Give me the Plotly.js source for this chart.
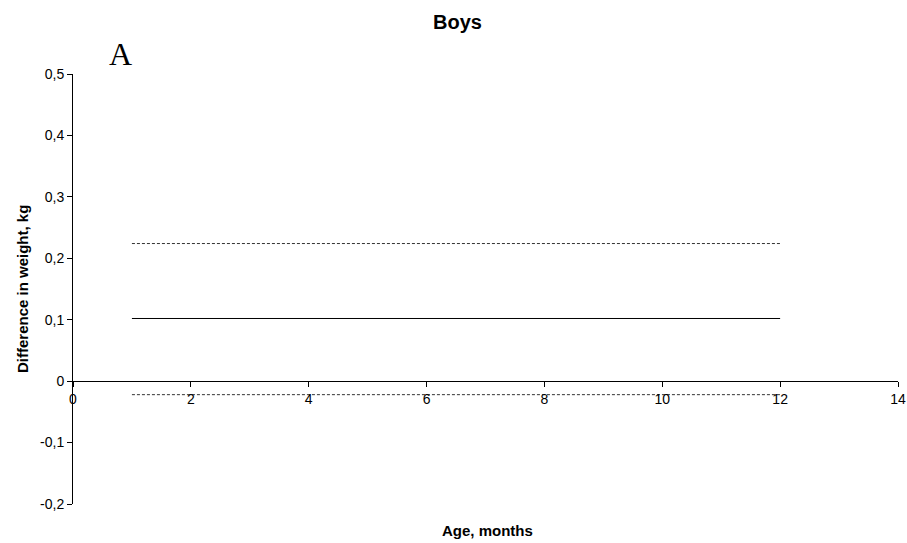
<!DOCTYPE html>
<html>
<head>
<meta charset="utf-8">
<script src="https://cdn.plot.ly/plotly-3.0.1.min.js"></script>
<style>html,body{margin:0;padding:0;background:#fff;}#chart{width:907px;height:543px;}</style>
</head>
<body>
<div id="chart"></div>
<script>
var ages = [1, 12];
var meanDiff = [0.102, 0.102];
var upperCI = [0.224, 0.224];
var lowerCI = [-0.022, -0.022];
var xTickVals = [0, 2, 4, 6, 8, 10, 12, 14];
var xTickText = ['0', '2', '4', '6', '8', '10', '12', '14'];
var yTickVals = [-0.2, -0.1, 0, 0.1, 0.2, 0.3, 0.4, 0.5];
var yTickText = ['-0,2', '-0,1', '0', '0,1', '0,2', '0,3', '0,4', '0,5'];

var yMin = -0.2, yMax = 0.5;
var font = 'Liberation Sans, Arial, sans-serif';

var traces = [
  {x: ages, y: meanDiff, mode: 'lines', line: {color: '#000', width: 1}, hoverinfo: 'skip'},
  {x: ages, y: upperCI, mode: 'lines', line: {color: '#333', width: 1, dash: '3px,2px'}, hoverinfo: 'skip'},
  {x: ages, y: lowerCI, mode: 'lines', line: {color: '#333', width: 1, dash: '3px,2px'}, hoverinfo: 'skip'}
];

var layout = {
  width: 907, height: 543,
  margin: {l: 73, r: 9, t: 74, b: 39},
  paper_bgcolor: '#fff', plot_bgcolor: '#fff',
  showlegend: false,
  font: {family: font, size: 14, color: '#000'},
  xaxis: {
    range: [0, 14], tickvals: xTickVals, ticktext: xTickText,
    showgrid: false, zeroline: false, showline: true, linecolor: '#000', linewidth: 1,
    ticks: 'outside', ticklen: 5, tickcolor: '#000',
    anchor: 'free', position: (0 - yMin) / (yMax - yMin),
    tickfont: {family: font, size: 14, color: '#000'}
  },
  yaxis: {
    range: [yMin, yMax], tickvals: yTickVals, ticktext: yTickText,
    showgrid: false, zeroline: false, showline: true, linecolor: '#000', linewidth: 1,
    ticks: 'outside', ticklen: 5, tickcolor: '#000',
    tickfont: {family: font, size: 14, color: '#000'}
  },
  annotations: [
    {text: '<b>Boys</b>', xref: 'paper', yref: 'paper', x: 0.4655, y: 1, yshift: 52, xanchor: 'center', yanchor: 'middle', showarrow: false, font: {family: font, size: 20, color: '#000'}},
    {text: 'A', xref: 'paper', yref: 'paper', x: 0.057, y: 1, yshift: 20, xanchor: 'center', yanchor: 'middle', showarrow: false, font: {family: 'Liberation Serif, Times New Roman, serif', size: 32, color: '#000'}},
    {text: '<b>Age, months</b>', xref: 'paper', yref: 'paper', x: 0.502, y: 0, yshift: -26, xanchor: 'center', yanchor: 'middle', showarrow: false, font: {family: font, size: 15, color: '#000'}},
    {text: '<b>Difference in weight, kg</b>', xref: 'paper', yref: 'paper', x: 0, xshift: -51, y: 0.5, xanchor: 'center', yanchor: 'middle', textangle: -90, showarrow: false, font: {family: font, size: 15, color: '#000'}}
  ]
};

Plotly.newPlot('chart', traces, layout, {displayModeBar: false, staticPlot: true});
</script>
</body>
</html>
